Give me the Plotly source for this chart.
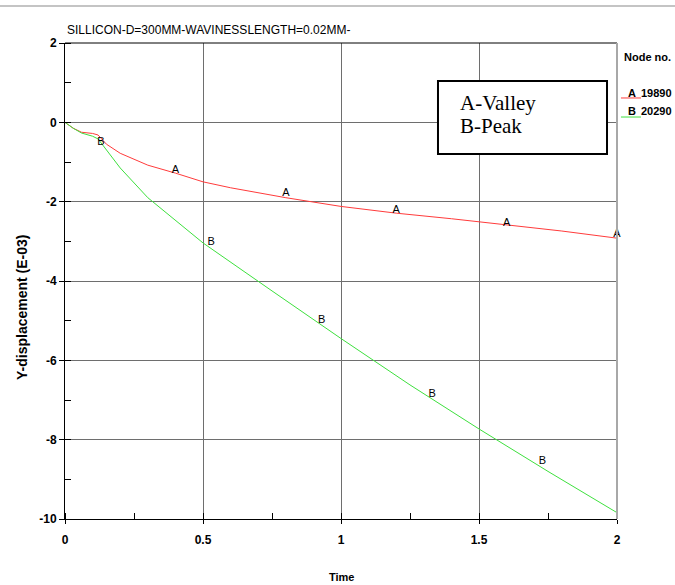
import plotly.graph_objects as go

# ---- data ----
time_A = [0, 0.03, 0.06, 0.1, 0.12, 0.15, 0.2, 0.3, 0.4, 0.5, 0.6, 0.8, 1.0, 1.2, 1.4, 1.6, 1.8, 2.0]
disp_A = [0, -0.15, -0.25, -0.28, -0.32, -0.55, -0.78, -1.08, -1.28, -1.5, -1.65, -1.9, -2.12, -2.29, -2.43, -2.58, -2.74, -2.92]

time_B = [0, 0.03, 0.06, 0.1, 0.12, 0.15, 0.2, 0.3, 0.5, 0.75, 1.0, 1.25, 1.5, 1.75, 2.0]
disp_B = [0, -0.15, -0.27, -0.35, -0.42, -0.7, -1.15, -1.9, -3.04, -4.25, -5.45, -6.62, -7.73, -8.8, -9.84]

label_t_A = [0.40, 0.80, 1.20, 1.60, 2.0]
label_y_A = [-1.20, -1.78, -2.22, -2.54, -2.82]
label_t_B = [0.13, 0.53, 0.93, 1.33, 1.73]
label_y_B = [-0.50, -3.02, -5.0, -6.85, -8.54]

x_ticks = [0, 0.5, 1, 1.5, 2]
x_tick_text = ["0", "0.5", "1", "1.5", "2"]
y_ticks = [2, 0, -2, -4, -6, -8, -10]
y_tick_text = ["2", "0", "-2", "-4", "-6", "-8", "-10"]

title_text = "SILLICON-D=300MM-WAVINESSLENGTH=0.02MM-"
series_letters = ["A", "B"]
node_ids = ["19890", "20290"]

RED = "#ff3b3b"
GREEN = "#3ee03e"

fig = go.Figure()
fig.add_trace(go.Scatter(x=time_A, y=disp_A, mode="lines",
                         line=dict(color=RED, width=1), showlegend=False))
fig.add_trace(go.Scatter(x=time_B, y=disp_B, mode="lines",
                         line=dict(color=GREEN, width=1), showlegend=False))
fig.add_trace(go.Scatter(x=label_t_A, y=label_y_A, mode="text", text=["A"] * len(label_t_A),
                         textfont=dict(family="Liberation Sans, Arial", size=11, color="black"),
                         showlegend=False, cliponaxis=False))
fig.add_trace(go.Scatter(x=label_t_B, y=label_y_B, mode="text", text=["B"] * len(label_t_B),
                         textfont=dict(family="Liberation Sans, Arial", size=11, color="black"),
                         showlegend=False, cliponaxis=False))

tickfont = dict(family="Liberation Sans, Arial", size=12, color="black", weight="bold")

fig.update_xaxes(range=[0, 2], tickvals=x_ticks, ticktext=x_tick_text, automargin=False,
                 showgrid=True, gridcolor="#6e6e6e", gridwidth=1,
                 showline=True, linecolor="black", linewidth=1,
                 ticks="outside", ticklen=4, tickcolor="black", ticklabelstandoff=6,
                 minor=dict(dtick=0.25, ticks="inside", ticklen=6, tickcolor="black", showgrid=False),
                 zeroline=False, tickfont=tickfont)
fig.update_yaxes(range=[-10, 2], tickvals=y_ticks, ticktext=y_tick_text, automargin=False,
                 showgrid=True, gridcolor="#6e6e6e", gridwidth=1,
                 showline=True, linecolor="black", linewidth=1,
                 ticks="outside", ticklen=5, tickcolor="black",
                 minor=dict(dtick=1, ticks="inside", ticklen=6, tickcolor="black", showgrid=False),
                 zeroline=False, tickfont=tickfont)

shapes = [
    # top border
    dict(type="line", xref="paper", yref="paper", x0=0, x1=1, y0=1, y1=1,
         line=dict(color="black", width=1)),
    # right border (gray)
    dict(type="line", xref="paper", yref="paper", x0=1, x1=1, y0=0, y1=1,
         line=dict(color="#a8a8a8", width=2)),
    # page top rule
    dict(type="line", xref="paper", yref="paper", x0=-0.12, x1=1.11, y0=1.0777, y1=1.0777,
         line=dict(color="#c4c4c4", width=2)),
    # text box border
    dict(type="rect", xref="paper", yref="paper", x0=0.6757, x1=0.9819, y0=0.7668, y1=0.9202,
         line=dict(color="black", width=2), fillcolor="white"),
    # legend line samples
    dict(type="line", xref="paper", yref="paper", x0=1.0072, x1=1.0435, y0=0.8845, y1=0.8845,
         line=dict(color=RED, width=1)),
    dict(type="line", xref="paper", yref="paper", x0=1.0072, x1=1.0435, y0=0.8445, y1=0.8445,
         line=dict(color=GREEN, width=1)),
]

legend_font = dict(family="Liberation Sans, Arial", size=11, color="black", weight="bold")
item_font = dict(family="Liberation Sans, Arial", size=11, color="black", weight="bold")
annotations = [
    dict(text=title_text, xref="paper", yref="paper", x=0, y=1.0273, xanchor="left", yanchor="middle",
         showarrow=False, font=dict(family="Liberation Sans, Arial", size=12, color="black")),
    dict(text="<b>Y-displacement (E-03)</b>", xref="paper", yref="paper", x=-0.0779, y=0.4454,
         xanchor="center", yanchor="middle", textangle=-90, showarrow=False,
         font=dict(family="Liberation Sans, Arial", size=14, color="black")),
    dict(text="<b>Time</b>", xref="paper", yref="paper", x=0.5, y=-0.1218,
         xanchor="center", yanchor="middle", showarrow=False,
         font=dict(family="Liberation Sans, Arial", size=11, color="black")),
    dict(text="Node no.", xref="paper", yref="paper", x=1.0100, y=0.9706, xanchor="left",
         yanchor="middle", showarrow=False, borderpad=0, font=legend_font),
    dict(text=series_letters[0], xref="paper", yref="paper", x=1.0190, y=0.8950, xanchor="left",
         yanchor="middle", showarrow=False, borderpad=0, font=item_font),
    dict(text=node_ids[0], xref="paper", yref="paper", x=1.0417, y=0.8950, xanchor="left",
         yanchor="middle", showarrow=False, borderpad=0, font=item_font),
    dict(text=series_letters[1], xref="paper", yref="paper", x=1.0190, y=0.8571, xanchor="left",
         yanchor="middle", showarrow=False, borderpad=0, font=item_font),
    dict(text=node_ids[1], xref="paper", yref="paper", x=1.0417, y=0.8571, xanchor="left",
         yanchor="middle", showarrow=False, borderpad=0, font=item_font),
    dict(text="A-Valley", xref="paper", yref="paper", x=0.7120, y=0.8739, xanchor="left",
         yanchor="middle", showarrow=False,
         font=dict(family="Liberation Serif, Times New Roman", size=21, color="black")),
    dict(text="B-Peak", xref="paper", yref="paper", x=0.7120, y=0.8256, xanchor="left",
         yanchor="middle", showarrow=False,
         font=dict(family="Liberation Serif, Times New Roman", size=21, color="black")),
]

fig.update_layout(width=675, height=585, margin=dict(l=65, r=58, t=43, b=66),
                  plot_bgcolor="white", paper_bgcolor="white",
                  shapes=shapes, annotations=annotations, showlegend=False)

fig.write_html("out.html", config={"displayModeBar": False},
               post_script="document.body.style.margin='0';document.body.style.overflow='hidden';")
